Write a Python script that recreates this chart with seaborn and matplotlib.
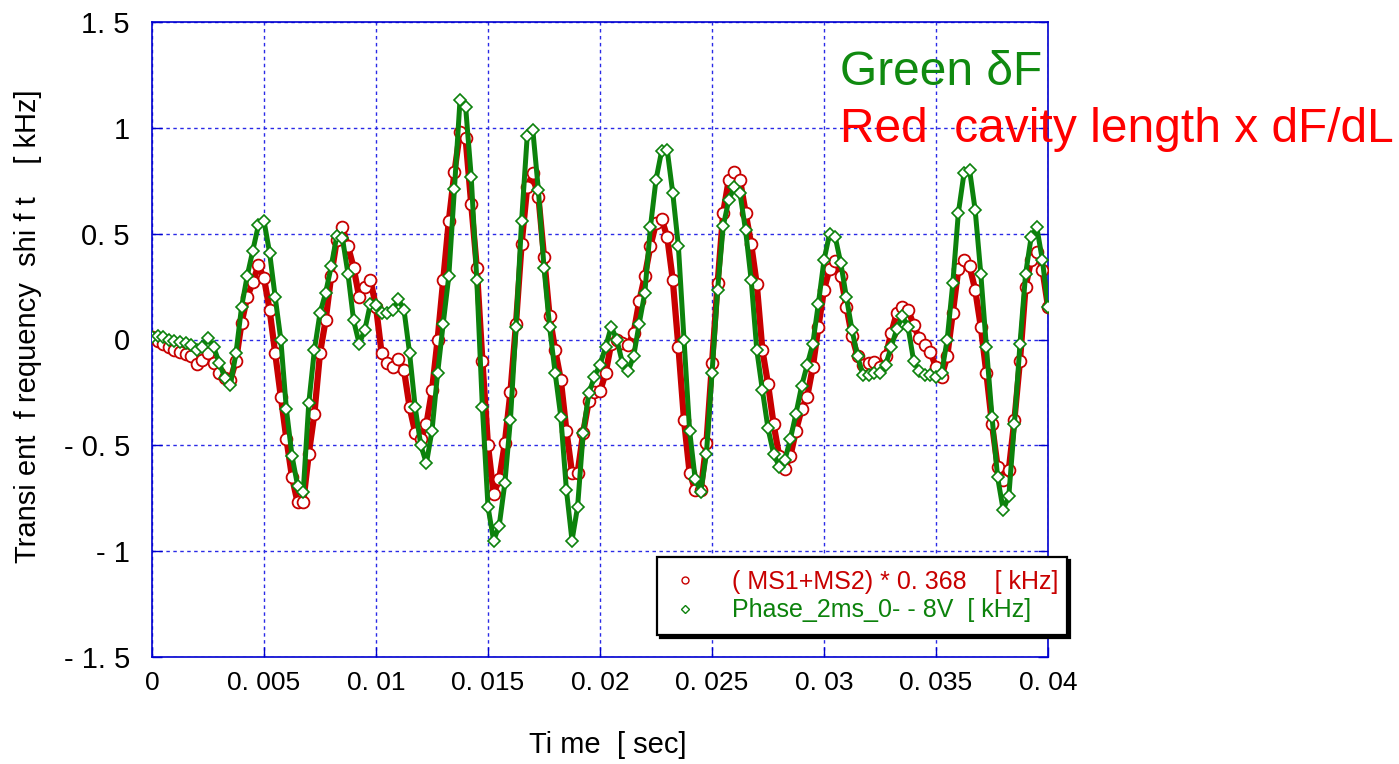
import numpy as np
import matplotlib
matplotlib.use("Agg")
import matplotlib.pyplot as plt
from matplotlib.lines import Line2D
import seaborn as sns

# ---- data -----------------------------------------------------------------
# sampling grid of the transient record [s]
time_s = np.round(np.arange(161) * 0.00025, 5)

# (MS1+MS2)*0.368 [kHz]
ms_sum_khz = [
    0.013, -0.005, -0.02, -0.035, -0.05, -0.06, -0.07, -0.08, -0.115, -0.095,
    -0.065, -0.11, -0.16, -0.18, -0.19, -0.1, 0.08, 0.2, 0.27, 0.35,
    0.29, 0.14, -0.065, -0.27, -0.47, -0.65, -0.77, -0.77, -0.54, -0.35,
    -0.065, 0.09, 0.3, 0.47, 0.53, 0.44, 0.34, 0.2, 0.25, 0.28,
    0.155, -0.065, -0.11, -0.13, -0.09, -0.145, -0.32, -0.44, -0.47, -0.4,
    -0.24, 0.0, 0.28, 0.56, 0.79, 0.98, 0.95, 0.64, 0.34, -0.1,
    -0.5, -0.73, -0.66, -0.49, -0.25, 0.075, 0.45, 0.72, 0.785, 0.675,
    0.39, 0.11, -0.05, -0.19, -0.43, -0.63, -0.63, -0.44, -0.29, -0.25,
    -0.245, -0.16, -0.02, 0.0, -0.015, -0.025, 0.03, 0.18, 0.3, 0.44,
    0.55, 0.57, 0.485, 0.28, -0.035, -0.38, -0.63, -0.71, -0.71, -0.49,
    -0.11, 0.265, 0.6, 0.755, 0.79, 0.755, 0.6, 0.45, 0.26, -0.05,
    -0.21, -0.4, -0.55, -0.61, -0.55, -0.43, -0.33, -0.27, -0.13, 0.06,
    0.235, 0.335, 0.37, 0.3, 0.155, 0.015, -0.08, -0.12, -0.11, -0.105,
    -0.13, -0.08, 0.03, 0.125, 0.155, 0.14, 0.07, 0.005, -0.025, -0.06,
    -0.13, -0.175, -0.08, 0.125, 0.335, 0.375, 0.345, 0.235, 0.06, -0.16,
    -0.4, -0.6, -0.665, -0.615, -0.38, -0.1, 0.25, 0.375, 0.415, 0.33,
    0.155,
]

# Phase_2ms_0--8V [kHz]
phase_khz = [
    0.013, 0.016, 0.01, 0.0, -0.005, -0.01, -0.015, -0.025, -0.05, -0.035,
    0.005, -0.035, -0.11, -0.18, -0.215, -0.065, 0.155, 0.3, 0.42, 0.54,
    0.56, 0.41, 0.2, 0.0, -0.33, -0.55, -0.69, -0.72, -0.3, -0.05,
    0.125, 0.22, 0.345, 0.49, 0.48, 0.31, 0.09, -0.02, 0.045, 0.17,
    0.165, 0.125, 0.125, 0.14, 0.19, 0.14, -0.065, -0.32, -0.5, -0.585,
    -0.43, -0.16, 0.075, 0.3, 0.71, 1.13, 1.1, 0.77, 0.28, -0.32,
    -0.79, -0.95, -0.88, -0.68, -0.38, 0.06, 0.56, 0.96, 0.99, 0.705,
    0.34, 0.06, -0.16, -0.365, -0.71, -0.95, -0.79, -0.44, -0.255, -0.175,
    -0.12, -0.035, 0.06, 0.0, -0.11, -0.15, -0.08, 0.075, 0.22, 0.53,
    0.755, 0.89, 0.895, 0.69, 0.44, 0.0, -0.43, -0.66, -0.72, -0.54,
    -0.16, 0.235, 0.535, 0.66, 0.72, 0.69, 0.515, 0.28, -0.05, -0.24,
    -0.42, -0.54, -0.6, -0.57, -0.47, -0.35, -0.22, -0.12, -0.02, 0.17,
    0.375, 0.5, 0.485, 0.36, 0.2, 0.045, -0.08, -0.17, -0.17, -0.16,
    -0.16, -0.12, -0.035, 0.05, 0.11, 0.06, -0.1, -0.15, -0.17, -0.17,
    -0.175, -0.16, 0.0, 0.265, 0.6, 0.785, 0.8, 0.61, 0.31, -0.035,
    -0.365, -0.65, -0.805, -0.74, -0.4, -0.02, 0.31, 0.485, 0.53, 0.375,
    0.155,
]

x_ticks = [0, 0.005, 0.01, 0.015, 0.02, 0.025, 0.03, 0.035, 0.04]
x_tick_labels = ["0", "0. 005", "0. 01", "0. 015", "0. 02", "0. 025", "0. 03", "0. 035", "0. 04"]
y_ticks = [-1.5, -1, -0.5, 0, 0.5, 1, 1.5]
y_tick_labels = ["- 1. 5", "- 1", "- 0. 5", "0", "0. 5", "1", "1. 5"]

series_labels = ["( MS1+MS2) * 0. 368    [ kHz]", "Phase_2ms_0- - 8V  [ kHz]"]

# ---- style ------------------------------------------------------------------
sns.set_theme(style="white")
plt.rcParams["font.family"] = ["Liberation Sans", "DejaVu Sans"]

RED_MK = "#c80000"
GREEN_MK = "#0c820c"
AXIS_BLUE = "#0000d0"

fig = plt.figure(figsize=(13.99, 7.64), dpi=100)
fig.patch.set_facecolor("white")
ax = fig.add_axes([152 / 1399, 107 / 764, 896 / 1399, 635 / 764])
ax.set_facecolor("white")

# traces: a heavy stroke through the samples plus open markers on each sample
sns.lineplot(x=time_s, y=ms_sum_khz, ax=ax, color=RED_MK, linewidth=4.5,
             marker="o", markersize=8.5, markerfacecolor="white",
             markeredgecolor=RED_MK, markeredgewidth=1.3, legend=False, zorder=3)
sns.lineplot(x=time_s, y=phase_khz, ax=ax, color=GREEN_MK, linewidth=3.6,
             marker="D", markersize=6.5, markerfacecolor="white",
             markeredgecolor=GREEN_MK, markeredgewidth=1.2, legend=False, zorder=4)

ax.set_xlim(0, 0.04)
ax.set_ylim(-1.5, 1.5)
ax.set_xticks(x_ticks)
ax.set_xticklabels(x_tick_labels, fontsize=19)
ax.set_yticks(y_ticks)
ax.set_yticklabels(y_tick_labels, fontsize=21)

ax.grid(True, color="#2a2ae6", linewidth=1.0, linestyle=(0, (2.5, 2.5)))
ax.set_axisbelow(True)
for sp in ax.spines.values():
    sp.set_visible(True)
    sp.set_color(AXIS_BLUE)
    sp.set_linewidth(1.2)

ax.tick_params(axis="both", direction="in", length=7, width=1, color=AXIS_BLUE,
               labelcolor="black")
ax.tick_params(axis="x", pad=10, bottom=True, top=False)
ax.tick_params(axis="y", pad=16, left=True, right=True)

ax.set_xlabel("Ti me  [ sec]", fontsize=21, color="black")
ax.set_ylabel("Transi ent  f requency  shi f t    [ kHz]", fontsize=21, color="black")
ax.xaxis.set_label_coords((608 - 152) / 896, (657 - 745) / 635)
ax.xaxis.label.set_va("center")
ax.yaxis.set_label_coords((28 - 152) / 896, (657 - 326) / 635)
ax.yaxis.label.set_va("center")

# legend with drop shadow
handles = [
    Line2D([], [], linestyle="none", marker="o", markersize=5, markerfacecolor="none",
           markeredgecolor=RED_MK, markeredgewidth=1),
    Line2D([], [], linestyle="none", marker="D", markersize=4, markerfacecolor="none",
           markeredgecolor=GREEN_MK, markeredgewidth=1),
]
leg = ax.legend(handles, series_labels, loc="upper left",
                bbox_to_anchor=(657 / 1399, 1 - 633 / 764, 410 / 1399, 76 / 764),
                bbox_transform=fig.transFigure, mode="expand",
                borderaxespad=0, frameon=True, fancybox=False,
                shadow={"color": "black", "alpha": 1},
                edgecolor="black", framealpha=1, borderpad=0.5, labelspacing=0.2,
                handlelength=1.2, handletextpad=1.3,
                prop={"size": 18})
leg.get_frame().set_linewidth(1.6)
for txt, col in zip(leg.get_texts(), [RED_MK, GREEN_MK]):
    txt.set_color(col)

# annotation in the upper right corner
fig.text(840 / 1399, 1 - 85 / 764, "Green \u03b4F", color="#108a10", fontsize=34.5,
         ha="left", va="baseline")
fig.text(840 / 1399, 1 - 142 / 764, "Red  cavity length x dF/dL", color="#ff0000",
         fontsize=34.5, ha="left", va="baseline")

fig.savefig("out.png", dpi=100, facecolor="white")
